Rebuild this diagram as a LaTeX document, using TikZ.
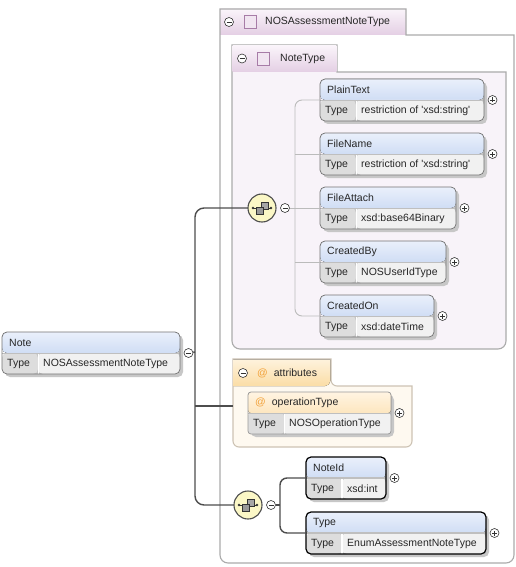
\documentclass[tikz,border=0pt]{standalone}
\usepackage{fontspec}
\setmainfont{Liberation Sans}

\definecolor{hdtop}{HTML}{EAF0FB}
\definecolor{hdbot}{HTML}{B5CAEE}
\definecolor{attop}{HTML}{FFF4E2}
\definecolor{atbot}{HTML}{FBD89C}
\definecolor{typecell}{HTML}{DDDDDD}
\definecolor{valcell}{HTML}{F1F1F1}
\definecolor{cxtop}{HTML}{FAF4FA}
\definecolor{cxbot}{HTML}{E4CFE4}
\definecolor{cxfill}{HTML}{F8F3F9}
\definecolor{cxline}{HTML}{ABABAB}
\definecolor{agtop}{HTML}{FEF2DC}
\definecolor{agbot}{HTML}{FBDDA6}
\definecolor{agfill}{HTML}{FEF9F0}
\definecolor{agline}{HTML}{CDC3B4}
\definecolor{seqfill}{HTML}{FBF7C6}
\definecolor{linkcol}{HTML}{4D4D4D}
\definecolor{forkcol}{HTML}{BBBBBB}
\definecolor{atsign}{HTML}{F2A23A}
\definecolor{iconline}{HTML}{A77CA7}

% element box: extra style, name, left, top, width, title, type, header style, sign style
\newcommand{\xelem}[9][]{%
	\fill[e-shadow] (#3+3,#4+3) rectangle (#3+#5+3,#4+45);
	\node[e-node,minimum width=#5pt,#1,
		path picture={
			\fill[#8] (path picture bounding box.north west) rectangle (path picture bounding box.east);
			\fill[typecell] (path picture bounding box.west) rectangle ([xshift=36pt]path picture bounding box.south west);
			\fill[valcell] ([xshift=36pt]path picture bounding box.west) rectangle (path picture bounding box.south east);
			\draw[white] ([xshift=36pt]path picture bounding box.west) -- ([xshift=36pt]path picture bounding box.south west);
			\draw[black!25] (path picture bounding box.west) -- (path picture bounding box.east);
		}] (#2) at (#3+#5/2,#4+21) {};
	\node[annot] (#2-name) at (#3+7,#4+10.5) {#6};
	\node[annot] (#2-tlab) at (#3+5,#4+31.5) {Type};
	\node[annot] (#2-type) at (#3+41,#4+31.5) {#7};
	\node[#9] (#2-sign) at (#3+#5+8.5,#4+21) {};
}

\begin{document}
\begin{tikzpicture}[x=1pt,y=-1pt]
	\tikzstyle{annot}=[font=\fontsize{10.5}{12}\selectfont,text=black!85,inner sep=0pt,anchor=west]
	\tikzstyle{e-node}=[rectangle,rounded corners=5pt,draw=black!55,line width=0.7pt,minimum height=42pt,inner sep=0pt,outer sep=0pt]
	\tikzstyle{mand}=[draw=black,line width=1.2pt]
	\tikzstyle{e-shadow}=[fill=black!22,rounded corners=5pt]
	\tikzstyle{e-head}=[top color=hdtop,bottom color=hdbot]
	\tikzstyle{a-head}=[top color=attop,bottom color=atbot]
	\tikzstyle{cx-tab}=[top color=cxtop,bottom color=cxbot]
	\tikzstyle{ag-tab}=[top color=agtop,bottom color=agbot]
	\tikzstyle{cx-line}=[draw=cxline,line width=1.1pt]
	\tikzstyle{ag-line}=[draw=agline,line width=1.1pt]
	\tikzstyle{cx-icon}=[rectangle,draw=iconline,fill=cxtop!60!cxbot,line width=0.7pt,minimum width=12pt,minimum height=13pt,inner sep=0pt]
	\tikzstyle{pm-node}=[circle,draw=black!80,fill=white,inner sep=0pt,minimum size=9pt,line width=0.6pt]
	\tikzstyle{minus-node}=[pm-node,path picture={\draw[line width=0.7pt] ([xshift=-2.5pt]path picture bounding box.center) -- ([xshift=2.5pt]path picture bounding box.center);}]
	\tikzstyle{plus-node}=[pm-node,path picture={\draw[line width=0.7pt] ([xshift=-2.5pt]path picture bounding box.center) -- ([xshift=2.5pt]path picture bounding box.center) ([yshift=-2.5pt]path picture bounding box.center) -- ([yshift=2.5pt]path picture bounding box.center);}]
	\tikzstyle{s-node}=[circle,draw=linkcol,fill=seqfill,line width=1.1pt,minimum size=28pt,inner sep=0pt,path picture={
		\draw[black!80,line width=0.6pt] ([xshift=-9pt]path picture bounding box.center) -- ([xshift=9pt]path picture bounding box.center);
		\fill[black!80] ([xshift=-9pt]path picture bounding box.center) circle (1.3pt) ([xshift=9pt]path picture bounding box.center) circle (1.3pt);
		\filldraw[fill=black!35,draw=black!80,line width=0.5pt] ([xshift=-1pt,yshift=-1pt]path picture bounding box.center) rectangle ([xshift=6pt,yshift=6pt]path picture bounding box.center);
		\filldraw[fill=black!40,draw=black!80,line width=0.5pt] ([xshift=-6pt,yshift=-6pt]path picture bounding box.center) rectangle ([xshift=1pt,yshift=1pt]path picture bounding box.center);}]
	\tikzstyle{link}=[draw=linkcol,line width=1.4pt]
	\tikzstyle{fork}=[draw=forkcol,line width=0.9pt]

	\fill[white] (0,0) rectangle (516,567);
	\useasboundingbox (0,0) rectangle (516,567);

	% complex type NOSAssessmentNoteType
	\fill[cx-tab] (220,9) rectangle (406,35);
	\draw[cx-line] (220,300) -- (220,9) -- (406,9) -- (406,35) -- (514,35) [rounded corners=8pt] -- (514,563) -- (220,563) [sharp corners] -- cycle;
	\node[minus-node] (outer-sign) at (229,22) {};
	\node[cx-icon] (outer-icon) at (250.5,22) {};
	\node[annot] (outer-name) at (265,22) {NOSAssessmentNoteType};

	% complex type NoteType
	\draw[cx-line,fill=cxfill] (232,200) -- (232,45) -- (337,45) -- (337,72) -- (506,72) [rounded corners=8pt] -- (506,349) -- (232,349) [sharp corners] -- cycle;
	\fill[cx-tab] (232.6,45.6) rectangle (336.4,72);
	\node[minus-node] (inner-sign) at (242,58.5) {};
	\node[cx-icon] (inner-icon) at (263.5,58.5) {};
	\node[annot] (inner-name) at (280,58.5) {NoteType};

	% attribute group
	\draw[ag-line,fill=agfill] (233,420) -- (233,359) -- (331,359) [rounded corners=6pt] -- (331,386) [sharp corners] -- (412,386) [rounded corners=6pt] -- (412,447) -- (233,447) [sharp corners] -- cycle;
	\fill[ag-tab] (233.6,386) -- (233.6,359.6) -- (330.4,359.6) [rounded corners=5.4pt] -- (330.4,386) [sharp corners] -- cycle;
	\node[minus-node] (attrs-sign) at (243,373) {};
	\node[annot] (attrs-name) at (257,373) {\textcolor{atsign}{@}\hspace{6pt}attributes};

	% elements
	\xelem{note}{2}{332}{178}{Note}{NOSAssessmentNoteType}{e-head}{minus-node}
	\xelem{plaintext}{320}{79}{164}{PlainText}{restriction of \textquotesingle xsd:string\textquotesingle}{e-head}{plus-node}
	\xelem{filename}{320}{133}{164}{FileName}{restriction of \textquotesingle xsd:string\textquotesingle}{e-head}{plus-node}
	\xelem{fileattach}{320}{187}{136}{FileAttach}{xsd:base64Binary}{e-head}{plus-node}
	\xelem{createdby}{320}{241}{126}{CreatedBy}{NOSUserIdType}{e-head}{plus-node}
	\xelem{createdon}{320}{295}{114}{CreatedOn}{xsd:dateTime}{e-head}{plus-node}
	\xelem[draw=black!40,rounded corners=3pt]{optype}{248}{392}{143}{\textcolor{atsign}{@}\hspace{6pt}operationType}{NOSOperationType}{a-head}{plus-node}
	\xelem[mand]{noteid}{306}{457}{80}{NoteId}{xsd:int}{e-head}{plus-node}
	\xelem[mand]{typeelem}{306}{512}{180}{Type}{EnumAssessmentNoteType}{e-head}{plus-node}

	% sequences
	\coordinate (trunk) at (195,352);
	\coordinate (fork1) at (295,208);
	\coordinate (fork2) at (280,505);
	\coordinate (attr-in) at (233,406);

	\draw[link,rounded corners=9pt] (260,208) -| (trunk) |- (246,505);
	\draw[fork,rounded corners=7pt] (plaintext.west) -| (fork1) |- (createdon.west);
	\draw[link,rounded corners=7pt] (noteid.west) -| (fork2) |- (typeelem.west);

	\node[s-node] (seq1) at (262,208) {};
	\node[minus-node] (seq1-sign) at (285,208) {};
	\node[s-node] (seq2) at (248,505) {};
	\node[minus-node] (seq2-sign) at (271,505) {};

	\path
		(note-sign)	edge[link]	(trunk)
		(trunk |- attr-in)	edge[link]	(attr-in)
		(seq2-sign)	edge[link]	(fork2)
		(seq1-sign)	edge[fork]	(fileattach.west)
		(fork1 |- filename.west)	edge[fork]	(filename.west)
		(fork1 |- createdby.west)	edge[fork]	(createdby.west);

\end{tikzpicture}
\end{document}
